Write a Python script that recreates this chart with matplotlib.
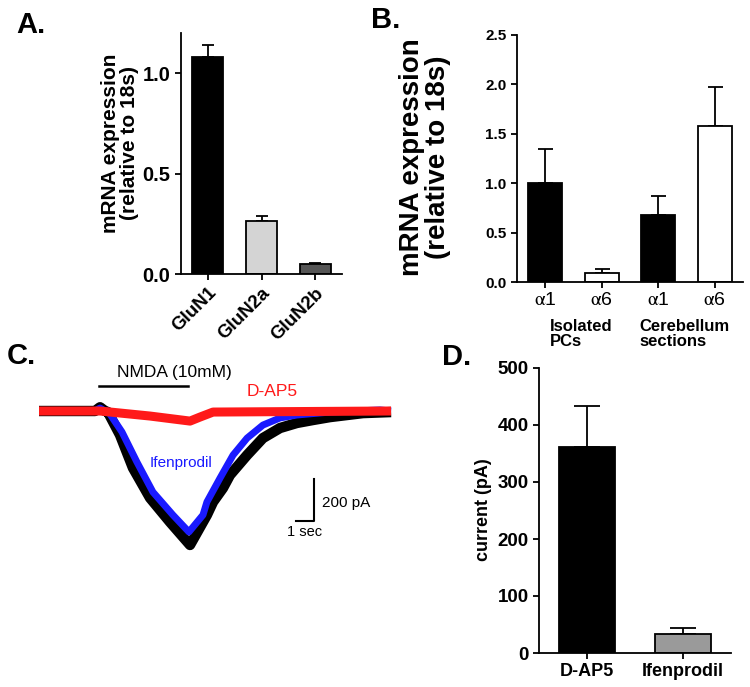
import matplotlib
matplotlib.use('Agg')
import matplotlib.pyplot as plt
import numpy as np

plt.rcParams['font.family'] = ['Liberation Sans', 'DejaVu Sans']
plt.rcParams['mathtext.fontset'] = 'stix'

# A. NMDA receptor subunits
a_labels = ['GluN1', 'GluN2a', 'GluN2b']
a_means = [1.08, 0.265, 0.048]
a_errs = [0.06, 0.025, 0.008]
a_colors = ['black', '#d4d4d4', '#555555']

# B. GABA-A alpha subunits
b_labels = [r'$\mathrm{\alpha}$1', r'$\mathrm{\alpha}$6', r'$\mathrm{\alpha}$1', r'$\mathrm{\alpha}$6']
b_means = [1.00, 0.09, 0.68, 1.58]
b_errs = [0.35, 0.045, 0.19, 0.39]
b_colors = ['black', 'white', 'black', 'white']

# C. traces (time in s, current in pA)
t_black = [0, 3.11, 3.39, 3.67, 3.83, 4.5, 5.22, 6.17, 7.28, 8.39, 9.33, 9.67,
           10.22, 10.61, 11.56, 12.44, 13.39, 14.33, 15.22, 16.17, 18.0, 19.56]
i_black = [0, 0, 18, 0, -5, -114, -271, -414, -529, -638, -495, -433,
           -367, -305, -210, -129, -81, -57, -43, -29, -10, -5]
t_blue = [0, 3.11, 3.39, 3.67, 3.83, 4.61, 5.44, 6.33, 7.44, 8.33, 9.11, 9.33,
          10.06, 10.78, 11.56, 12.44, 13.39, 14.33, 16.17, 18.94, 19.56]
i_blue = [0, 0, 14, 0, 0, -100, -243, -386, -495, -576, -495, -433,
          -319, -210, -129, -67, -33, -19, -5, 5, 0]
t_red = [0, 3.39, 6.17, 8.39, 8.94, 9.67, 19.56]
i_red = [0, 0, -24, -48, -29, -5, 0]

# D. peak current
d_labels = ['D-AP5', 'Ifenprodil']
d_means = [362, 33]
d_errs = [72, 11]
d_colors = ['black', '#9a9a9a']

W, H = 750, 687
fig = plt.figure(figsize=(W / 100, H / 100), dpi=100)


def pos(l, r, b, t):
    return [l / W, 1 - b / H, (r - l) / W, (b - t) / H]


def style(ax):
    for s in ['top', 'right']:
        ax.spines[s].set_visible(False)
    for s in ['left', 'bottom']:
        ax.spines[s].set_linewidth(1.3)
    ax.tick_params(width=1.3, length=4, direction='out')


def bars(ax, means, errs, colors, width, capsize):
    x = np.arange(len(means))
    ax.bar(x, means, width=width, color=colors, edgecolor='black', linewidth=1.3, zorder=2)
    ax.errorbar(x, means, yerr=[np.zeros(len(errs)), errs], fmt='none',
                ecolor='black', elinewidth=1.3, capsize=capsize, capthick=1.3, zorder=1)
    ax.set_xlim(-0.5, len(means) - 0.5)
    ax.set_xticks(x)


# panel A
axA = fig.add_axes(pos(181, 342, 274, 33))
style(axA)
bars(axA, a_means, a_errs, a_colors, 0.58, 4.3)
axA.set_ylim(0, 1.2)
axA.set_yticks([0, 0.5, 1.0])
axA.set_yticklabels(['0.0', '0.5', '1.0'], fontsize=14.5, fontweight='bold')
axA.set_xticklabels(a_labels, rotation=45, ha='right', rotation_mode='anchor',
                    fontsize=13.5, fontweight='bold')
fig.text(120 / W, 1 - 143 / H, 'mRNA expression\n(relative to 18s)', rotation=90,
         ha='center', va='center', fontsize=15, fontweight='bold', linespacing=1.0)

# panel B
axB = fig.add_axes(pos(517, 743, 282, 35))
style(axB)
bars(axB, b_means, b_errs, b_colors, 0.6, 5.4)
axB.set_ylim(0, 2.5)
axB.set_yticks([0, 0.5, 1.0, 1.5, 2.0, 2.5])
axB.set_yticklabels(['0.0', '0.5', '1.0', '1.5', '2.0', '2.5'], fontsize=11, fontweight='bold')
axB.set_xticklabels(b_labels, fontsize=14)
fig.text(425 / W, 1 - 157 / H, 'mRNA expression\n(relative to 18s)', rotation=90,
         ha='center', va='center', fontsize=20, fontweight='bold', linespacing=1.0)
fig.text(550 / W, 1 - 334 / H, 'Isolated\nPCs', ha='left', va='center',
         fontsize=12, fontweight='bold', linespacing=1.0)
fig.text(639 / W, 1 - 334 / H, 'Cerebellum\nsections', ha='left', va='center',
         fontsize=12, fontweight='bold', linespacing=1.0)

# panel C
axC = fig.add_axes(pos(30, 400, 560, 360))
axC.axis('off')
axC.set_xlim(-0.5, 20.056)
axC.set_ylim(-709.5, 242.9)
axC.plot(t_black, i_black, color='black', lw=7.5, solid_joinstyle='round', solid_capstyle='butt')
axC.plot(t_blue, i_blue, color='#1a1aff', lw=5, solid_joinstyle='round', solid_capstyle='butt')
axC.plot(t_red, i_red, color='#ff1a1a', lw=6.5, solid_joinstyle='round', solid_capstyle='butt')
axC.plot([3.33, 8.28], [119, 119], color='black', lw=1.8)
axC.text(7.5, 181, 'NMDA (10mM)', ha='center', va='center', fontsize=12.5)
axC.text(12.94, 95, 'D-AP5', ha='center', va='center', fontsize=12.5, color='#ff1a1a')
axC.text(7.89, -248, 'Ifenprodil', ha='center', va='center', fontsize=11, color='#1a1aff')
axC.plot([14.28, 15.28, 15.28], [-524, -524, -324], color='black', lw=1.5)
axC.text(15.72, -438, '200 pA', ha='left', va='center', fontsize=11)
axC.text(14.78, -576, '1 sec', ha='center', va='center', fontsize=10.5)

# panel D
axD = fig.add_axes(pos(539, 731, 653, 368))
style(axD)
bars(axD, d_means, d_errs, d_colors, 0.59, 9.5)
axD.set_ylim(0, 500)
axD.set_yticks([0, 100, 200, 300, 400, 500])
axD.set_yticklabels(['0', '100', '200', '300', '400', '500'], fontsize=13.5, fontweight='bold')
axD.set_xticklabels(d_labels, fontsize=13, fontweight='bold')
fig.text(483 / W, 1 - 510 / H, 'current (pA)', rotation=90, ha='center', va='center',
         fontsize=13, fontweight='bold')

# panel letters
for s, x, y in [('A.', 16, 25), ('B.', 371, 20), ('C.', 7, 356), ('D.', 442, 357)]:
    fig.text(x / W, 1 - y / H, s, ha='left', va='center', fontsize=21, fontweight='bold')

fig.savefig('out.png', dpi=100)
